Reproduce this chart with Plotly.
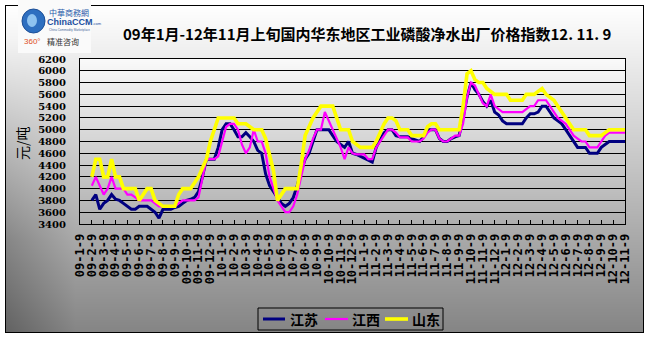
import base64
import struct
import zlib

import numpy as np
import plotly.graph_objects as go

W, H = 651, 339

# ---------------- data ----------------
x_labels = [
    "09-1-9", "09-2-9", "09-3-9", "09-4-9", "09-5-9", "09-6-9", "09-7-9", "09-8-9",
    "09-9-9", "09-10-9", "09-11-9", "09-12-9",
    "10-1-9", "10-2-9", "10-3-9", "10-4-9", "10-5-9", "10-6-9", "10-7-9", "10-8-9",
    "10-9-9", "10-10-9", "10-11-9", "10-12-9",
    "11-1-9", "11-2-9", "11-3-9", "11-4-9", "11-5-9", "11-6-9", "11-7-9", "11-8-9",
    "11-9-9", "11-10-9", "11-11-9", "11-12-9",
    "12-1-9", "12-2-9", "12-3-9", "12-4-9", "12-5-9", "12-6-9", "12-7-9", "12-8-9",
    "12-9-9", "12-10-9", "12-11-9",
]

jiangsu = [
    3800, 3900, 3650, 3750, 3800, 3900, 3820, 3800, 3750, 3700,
    3650, 3650, 3700, 3700, 3700, 3650, 3600, 3500, 3650, 3650,
    3650, 3680, 3700, 3750, 3800, 3820, 3850, 3950, 4200, 4500,
    4500, 4500, 4700, 5000, 5100, 5100, 5000, 4880, 4880, 4950,
    4880, 4800, 4650, 4600, 4250, 4050, 3950, 3850, 3750, 3700,
    3750, 3850, 4050, 4300, 4500, 4600, 4800, 5000, 5000, 5000,
    5000, 4900, 4800, 4750, 4700, 4800, 4600, 4580, 4550, 4520,
    4480, 4450, 4700, 4820, 4950, 5000, 5000, 4900, 4880, 4880,
    4880, 4850, 4830, 4800, 4880, 5000, 5000, 5000, 4850, 4800,
    4800, 4850, 4880, 4900, 5200, 5550, 5800, 5680, 5600, 5480,
    5400, 5500, 5300, 5250, 5150, 5100, 5100, 5100, 5100, 5100,
    5200, 5270, 5270, 5300, 5400, 5400, 5300, 5200, 5150, 5100,
    5000, 4900, 4800, 4700, 4700, 4700, 4600, 4600, 4600, 4700,
    4750, 4800, 4800, 4800, 4800, 4800,
]

jiangxi = [
    4050, 4200, 4050, 3900, 4000, 4200, 4000, 4000, 4000, 3900,
    3900, 3850, 3800, 3800, 3800, 3800, 3750, 3700, 3700, 3700,
    3700, 3700, 3750, 3800, 3800, 3800, 3800, 3850, 4200, 4500,
    4500, 4500, 4550, 4800, 5050, 5100, 5100, 5000, 4750, 4600,
    4700, 5000, 4800, 4800, 4600, 4200, 4000, 3800, 3700, 3600,
    3600, 3700, 3900, 4200, 4500, 4650, 4850, 5000, 5000, 5300,
    5150, 5000, 4850, 4700, 4500, 4700, 4600, 4580, 4580, 4580,
    4500, 4500, 4700, 4800, 4900, 5000, 5000, 4950, 4870, 4870,
    4870, 4800, 4800, 4800, 4850, 4950, 5000, 5000, 4850, 4800,
    4800, 4850, 4900, 4900, 5100, 5550, 5800, 5750, 5600, 5450,
    5400, 5600, 5400, 5350, 5300, 5300, 5300, 5300, 5300, 5300,
    5350, 5400, 5400, 5500, 5500, 5500, 5400, 5300, 5200, 5150,
    5100, 5000, 4900, 4850, 4800, 4800, 4700, 4700, 4700, 4800,
    4900, 4950, 4950, 4950, 4950, 4950,
]

shandong = [
    4200, 4500, 4500, 4200, 4200, 4500, 4200, 4200, 4000, 4000,
    4000, 4000, 3800, 3900, 4000, 4000, 3800, 3750, 3700, 3700,
    3700, 3700, 3900, 4000, 4000, 4000, 4100, 4200, 4350, 4500,
    4800, 5000, 5200, 5200, 5200, 5200, 5200, 5100, 5100, 5100,
    5050, 5000, 5000, 5000, 4850, 4600, 4300, 3800, 3900, 4000,
    4000, 4000, 4000, 4400, 4900, 5050, 5200, 5300, 5400, 5400,
    5400, 5400, 5200, 5000, 5000, 5000, 4800, 4750, 4700, 4700,
    4700, 4700, 4800, 4950, 5100, 5200, 5200, 5150, 5000, 5000,
    5000, 4900, 4900, 4900, 4900, 5050, 5100, 5100, 5000, 5000,
    5000, 5000, 5000, 5000, 5400, 5950, 6000, 5850, 5800, 5800,
    5700, 5650, 5600, 5600, 5600, 5600, 5500, 5500, 5500, 5500,
    5600, 5600, 5600, 5650, 5700, 5600, 5550, 5500, 5400, 5300,
    5200, 5100, 5000, 5000, 5000, 5000, 4900, 4900, 4900, 4900,
    4950, 5000, 5000, 5000, 5000, 5000,
]

series_names = ["江苏", "江西", "山东"]
series_values = [jiangsu, jiangxi, shandong]
series_colors = ["#000080", "#ff00ff", "#ffff00"]
series_widths = [3, 2.2, 3.6]

title_text = "09年1月-12年11月上旬国内华东地区工业磷酸净水出厂价格指数12. 11. 9"
y_title = "元/吨"

# ---------------- geometry helpers ----------------
PLOT_L, PLOT_R, PLOT_T, PLOT_B = 80, 625, 59, 224


def px(x):
    return x / W


def py(y):
    return 1 - y / H


# ---------------- background bitmap (gradients, frame) ----------------
yy, xx = np.mgrid[0:H, 0:W].astype(float)
bg = np.full((H, W), 255.0)
panel = (xx >= 5) & (xx <= 643) & (yy >= 5) & (yy <= 332)
t = np.clip((yy - 5) / 327, 0, 1)
val = 255 - 122 * t ** 1.05
left = np.clip(1 - (xx - 5) / 70, 0, 1)
val = val - 35 * left * np.clip((yy - 40) / 200, 0, 1)
bg[panel] = val[panel]
plot_area = (xx >= PLOT_L) & (xx <= PLOT_R) & (yy >= PLOT_T) & (yy <= PLOT_B)
s = (yy - PLOT_T) / (PLOT_B - PLOT_T)
bg[plot_area] = (250 - 75 * s)[plot_area]
bg[5, 5:644] = 0
bg[332, 5:644] = 0
bg[5:333, 5] = 0
bg[5:333, 643] = 0
logo = (xx >= 18) & (xx <= 90) & (yy >= 0) & (yy <= 52)
bg[logo] = 250
arr = np.clip(np.stack([bg, bg, bg], axis=-1), 0, 255).astype(np.uint8)


def png_data_uri(a):
    h, w, _ = a.shape
    raw = b"".join(b"\x00" + a[r].tobytes() for r in range(h))

    def chunk(tag, data):
        c = struct.pack(">I", len(data)) + tag + data
        return c + struct.pack(">I", zlib.crc32(tag + data) & 0xFFFFFFFF)

    png = (b"\x89PNG\r\n\x1a\n"
           + chunk(b"IHDR", struct.pack(">IIBBBBB", w, h, 8, 2, 0, 0, 0))
           + chunk(b"IDAT", zlib.compress(raw, 9))
           + chunk(b"IEND", b""))
    return "data:image/png;base64," + base64.b64encode(png).decode()


# ---------------- figure ----------------
n = len(jiangsu)
xs = list(range(n))

fig = go.Figure()
for name, vals, col, wd in zip(series_names, series_values, series_colors, series_widths):
    fig.add_trace(go.Scatter(x=xs, y=vals, mode="lines", name=name, showlegend=False,
                             line=dict(color=col, width=wd)))

tickvals = [-3 + 3 * k for k in range(len(x_labels))]

fig.update_layout(
    width=W, height=H, autosize=False,
    margin=dict(l=0, r=0, t=0, b=0, autoexpand=False),
    paper_bgcolor="white",
    plot_bgcolor="rgba(0,0,0,0)",
    showlegend=False,
    xaxis=dict(domain=[px(PLOT_L), px(PLOT_R)], range=[-3, n - 1], automargin=False,
               tickmode="array", tickvals=tickvals, ticktext=x_labels,
               tickangle=-90, ticks="inside", ticklen=4, tickcolor="black",
               showgrid=False, zeroline=False, showline=True, linecolor="black",
               linewidth=1, mirror=True, ticklabelstandoff=4,
               tickfont=dict(family="DejaVu Sans Mono", size=12, color="black", weight="bold")),
    yaxis=dict(domain=[py(PLOT_B), py(PLOT_T)], range=[3400, 6200], dtick=200,
               tick0=3400, showgrid=True, gridcolor="black", gridwidth=1, automargin=False,
               zeroline=False, showline=True, linecolor="black", linewidth=1, mirror=True,
               ticks="", ticklabelstandoff=11,
               tickfont=dict(family="DejaVu Serif", size=10, color="black", weight="bold")),
    images=[dict(source=png_data_uri(arr), xref="paper", yref="paper", x=0, y=1,
                 sizex=1, sizey=1, xanchor="left", yanchor="top", sizing="stretch",
                 layer="below")],
)

annotations = [
    dict(text=title_text, x=px(367), y=py(34), xref="paper", yref="paper",
         showarrow=False, xanchor="center", yanchor="middle",
         font=dict(family="Noto Sans CJK SC", size=15, color="black", weight="bold")),
    dict(text=y_title, x=px(22), y=py(143), xref="paper", yref="paper",
         showarrow=False, textangle=-90, xanchor="center", yanchor="middle",
         font=dict(family="Noto Sans CJK SC", size=14, color="black")),
    # logo texts
    dict(text="中華商務網", x=px(47), y=py(12), xref="paper", yref="paper", xanchor="left",
         yanchor="middle", showarrow=False,
         font=dict(family="Noto Sans CJK SC", size=8, color="#2a5caa")),
    dict(text="<b>ChinaCCM</b><span style='font-size:4px'>.com</span>", x=px(45), y=py(22),
         xref="paper", yref="paper", showarrow=False, xanchor="left", yanchor="middle",
         font=dict(family="Liberation Sans", size=9, color="#1c4fa0")),
    dict(text="China Commodity Marketplace", x=px(47), y=py(30), xref="paper", yref="paper",
         showarrow=False, xanchor="left", yanchor="middle",
         font=dict(family="Liberation Sans", size=3, color="#4a6a9a")),
    dict(text="360°", x=px(22), y=py(42), xref="paper", yref="paper", xanchor="left",
         yanchor="middle", showarrow=False,
         font=dict(family="Liberation Sans", size=8, color="#e0501e")),
    dict(text="精准咨询", x=px(45), y=py(42), xref="paper", yref="paper", xanchor="left",
         yanchor="middle", showarrow=False,
         font=dict(family="Noto Sans CJK SC", size=8, color="#333333")),
]

# custom legend (box, line samples, labels)
LEG_L, LEG_R, LEG_T, LEG_B = 258, 443, 308, 330
leg_line_x = [(263, 285), (325, 348), (385, 408)]
leg_text_x = [288, 350, 410]
shapes = [
    dict(type="rect", xref="paper", yref="paper", x0=px(LEG_L), x1=px(LEG_R),
         y0=py(LEG_B), y1=py(LEG_T), line=dict(color="black", width=1),
         fillcolor="rgba(0,0,0,0)"),
]
for (x0, x1), tx, name, col, wd in zip(leg_line_x, leg_text_x, series_names,
                                        series_colors, series_widths):
    shapes.append(dict(type="line", xref="paper", yref="paper", x0=px(x0), x1=px(x1),
                       y0=py(319), y1=py(319), line=dict(color=col, width=wd)))
    annotations.append(dict(text=name, x=px(tx), y=py(319), xref="paper", yref="paper",
                            xanchor="left", yanchor="middle", showarrow=False,
                            font=dict(family="Noto Sans CJK SC", size=14, color="black",
                                      weight="bold")))

# logo globe
shapes.append(dict(type="circle", xref="paper", yref="paper",
                   x0=px(22), x1=px(45), y0=py(33), y1=py(9),
                   fillcolor="#2e6fc0", line=dict(color="#1d4f96", width=1)))
shapes.append(dict(type="circle", xref="paper", yref="paper",
                   x0=px(27), x1=px(37), y0=py(27), y1=py(14),
                   fillcolor="#8fc3f0", line=dict(width=0)))

fig.update_layout(annotations=annotations, shapes=shapes)

fig.write_html("out.html")
